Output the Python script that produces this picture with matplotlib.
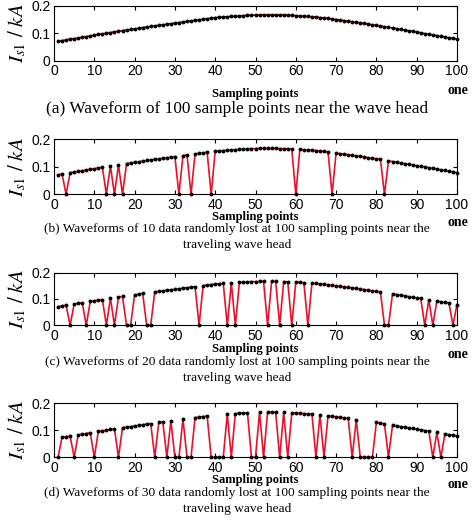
import matplotlib
matplotlib.use("Agg")
import matplotlib.pyplot as plt
import numpy as np

# sampled current near the wave head (kA), points 1..100
samples = list(range(1, 101))
current = [
    0.071, 0.074, 0.076, 0.079, 0.081, 0.083, 0.086, 0.088, 0.091, 0.093,
    0.096, 0.098, 0.100, 0.103, 0.105, 0.107, 0.110, 0.112, 0.114, 0.116,
    0.118, 0.121, 0.123, 0.125, 0.127, 0.129, 0.131, 0.133, 0.135, 0.137,
    0.139, 0.141, 0.143, 0.145, 0.147, 0.149, 0.151, 0.153, 0.155, 0.157,
    0.158, 0.159, 0.160, 0.161, 0.162, 0.163, 0.164, 0.165, 0.166, 0.166,
    0.167, 0.167, 0.167, 0.167, 0.167, 0.166, 0.166, 0.165, 0.165, 0.164,
    0.163, 0.162, 0.161, 0.160, 0.159, 0.157, 0.156, 0.154, 0.152, 0.150,
    0.148, 0.146, 0.144, 0.142, 0.140, 0.138, 0.136, 0.133, 0.131, 0.129,
    0.127, 0.124, 0.122, 0.119, 0.117, 0.114, 0.112, 0.109, 0.107, 0.104,
    0.102, 0.099, 0.097, 0.094, 0.092, 0.089, 0.087, 0.084, 0.082, 0.079,
]

# sample indices that were lost (set to zero)
lost_a = []
lost_b = [3, 13, 15, 17, 31, 34, 39, 60, 69, 82]
lost_c = [4, 8, 13, 15, 18, 19, 23, 24, 36, 43, 45, 53, 56, 59, 63, 82, 83, 92, 94, 99]
lost_d = [1, 5, 10, 16, 25, 28, 30, 31, 33, 34, 39, 40, 41, 42, 44, 49, 50, 52, 56, 58,
          65, 67, 74, 76, 77, 78, 79, 83, 94, 96]

captions = [
    "(a) Waveform of 100 sample points near the wave head",
    "(b) Waveforms of 10 data randomly lost at 100 sampling points near the\ntraveling wave head",
    "(c) Waveforms of 20 data randomly lost at 100 sampling points near the\ntraveling wave head",
    "(d) Waveforms of 30 data randomly lost at 100 sampling points near the\ntraveling wave head",
]

plt.rcParams['mathtext.fontset'] = 'stix'
W, H = 474, 528
fig = plt.figure(figsize=(W / 100, H / 100), dpi=100)

# axes boxes in pixels: (top, bottom)
boxes = [(5.7, 61.0), (139.3, 194.3), (272.7, 325.3), (403.3, 457.3)]
left_px, right_px = 54, 457
xlabel_y = [94, 217, 349, 480]
one_y = [90, 222, 354, 485]
cap_y = [109, 237, 370, 501]
cap_size = [12.4, 9.6, 9.6, 9.6]

serif = 'Liberation Serif'
sans = 'Liberation Sans'

for i, lost in enumerate([lost_a, lost_b, lost_c, lost_d]):
    top, bot = boxes[i]
    ax = fig.add_axes([left_px / W, 1 - bot / H, (right_px - left_px) / W, (bot - top) / H])
    vals = np.array(current)
    for k in lost:
        vals[k - 1] = 0.0
    line_col = '#8b0000' if i == 0 else '#e8102a'
    ax.plot(samples, vals, color=line_col, linewidth=1.2, zorder=2, clip_on=False)
    ax.plot(samples, vals, linestyle='none', marker='o', markersize=1.8,
            color='black', zorder=3, clip_on=False)
    ax.set_xlim(0, 100)
    ax.set_ylim(0, 0.2)
    ax.set_xticks(range(0, 101, 10))
    ax.set_yticks([0, 0.1, 0.2])
    ax.set_yticklabels(['0', '0.1', '0.2'])
    ax.tick_params(direction='in', top=True, right=True, length=3, width=0.8,
                   labelsize=10, pad=2.5)
    for lab in ax.get_xticklabels() + ax.get_yticklabels():
        lab.set_fontfamily(sans)
    for sp in ax.spines.values():
        sp.set_linewidth(0.8)
    ax.set_ylabel(r'$I_{s1}\ /\ kA$', fontsize=15, labelpad=2)

    fig.text((left_px + right_px) / 2 / W, 1 - xlabel_y[i] / H, 'Sampling points',
             ha='center', va='center', fontsize=9, family=serif, weight='bold')
    fig.text(458 / W, 1 - one_y[i] / H, 'one', ha='center', va='center',
             fontsize=10, family=serif, weight='bold')
    fig.text(237 / W, 1 - cap_y[i] / H, captions[i], ha='center', va='center',
             fontsize=cap_size[i], family=serif, linespacing=1.4)

fig.savefig('out.png', dpi=100)
